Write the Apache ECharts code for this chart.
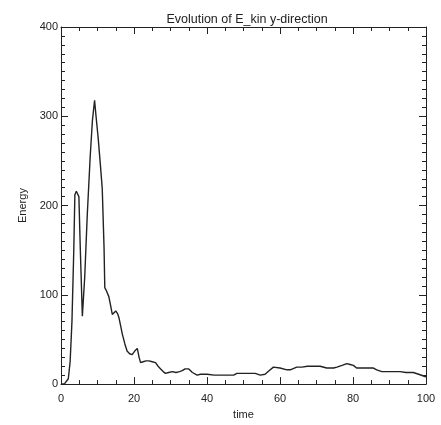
<!DOCTYPE html>
<html>
<head>
<meta charset="utf-8">
<script src="https://cdn.jsdelivr.net/npm/echarts@6/dist/echarts.min.js"></script>
<style>html,body{margin:0;padding:0;background:#fff;}#c{width:441px;height:425px;}</style>
</head>
<body>
<div id="c"></div>
<script>
var timeVals = [0, 0.5, 1, 1.5, 2, 2.5, 3, 3.5, 3.8, 4.2, 4.6, 4.9, 5.3, 5.85, 6.5, 7.2, 8, 8.6, 9.2, 9.6, 10.2, 10.8, 11.3, 11.8, 12.0, 12.5, 13.1, 13.6, 14.05, 14.5, 15, 15.5, 15.9, 16.4, 16.8, 17.5, 18.1, 18.8, 19.5, 20.2, 20.9, 21.4, 21.8, 22.5, 23.3, 24.1, 25, 25.9, 26.6, 27.3, 28, 28.6, 29.5, 30.5, 31.5, 32.5, 33.2, 34, 35, 36, 37.3, 38.2, 39, 40, 42, 44, 46, 47.3, 48.2, 50, 52, 53.2, 54.6, 55.9, 57, 58.2, 60, 61.9, 62.8, 64.6, 66, 67.5, 69.2, 71, 72.8, 74.7, 75.6, 77, 78.3, 79.2, 80.1, 81, 83, 85.6, 86.5, 87.9, 90, 92.9, 94.5, 96.5, 98, 99.7, 100];
var energyVals = [0, 0, 0.5, 2, 6, 25, 70, 150, 212, 216, 215, 210, 150, 76, 120, 190, 255, 295, 318, 300, 275, 245, 219, 152, 108, 104, 98, 88, 78, 80, 82, 79, 74, 64, 56, 45, 37, 34, 33, 37, 40, 30, 24, 25, 26, 26, 25, 24, 20, 17, 14, 12, 13, 14, 13, 14, 15, 17, 17, 13, 10, 11, 11, 11, 10, 10, 10, 10, 12, 12, 12, 12, 10, 11, 15, 19, 18, 16, 16, 19, 19, 20, 20, 20, 18, 18, 19, 21, 23, 22, 21, 18, 18, 18, 16, 14, 14, 14, 13, 13, 11, 8.5, 8];
var xTicks = [0, 20, 40, 60, 80, 100];
var yTicks = [0, 100, 200, 300, 400];

var chart = echarts.init(document.getElementById('c'));
var font = 'Liberation Sans';
function axisBase(splitNum) {
  return {
    axisLine: {show: true, onZero: false, lineStyle: {color: '#222', width: 1}},
    axisTick: {show: true, inside: true, length: 7, lineStyle: {color: '#222'}},
    minorTick: {show: true, splitNumber: splitNum, length: 4, lineStyle: {color: '#222'}},
    splitLine: {show: false}
  };
}
chart.setOption({
  animation: false,
  backgroundColor: '#fff',
  title: {
    text: 'Evolution of E_kin y-direction',
    left: 242, top: 8, textAlign: 'center',
    textStyle: {fontFamily: font, fontSize: 12.5, fontWeight: 'normal', color: '#222'}
  },
  grid: {left: 61, right: 15, top: 27, bottom: 38},
  xAxis: [
    Object.assign(axisBase(4), {
      type: 'value', position: 'bottom', min: xTicks[0], max: xTicks[xTicks.length - 1], interval: 20,
      name: 'time', nameLocation: 'middle', nameGap: 22,
      nameTextStyle: {fontFamily: font, fontSize: 11, color: '#222'},
      axisLabel: {fontFamily: font, fontSize: 11, color: '#222', margin: 9}
    }),
    Object.assign(axisBase(4), {
      type: 'value', position: 'top', min: xTicks[0], max: xTicks[xTicks.length - 1], interval: 20,
      axisLabel: {show: false}
    })
  ],
  yAxis: [
    Object.assign(axisBase(10), {
      type: 'value', position: 'left', min: yTicks[0], max: yTicks[yTicks.length - 1], interval: 100,
      name: 'Energy', nameLocation: 'middle', nameGap: 23,
      nameTextStyle: {fontFamily: font, fontSize: 11, color: '#222'},
      axisLabel: {fontFamily: font, fontSize: 11, color: '#222', margin: 3}
    }),
    Object.assign(axisBase(10), {
      type: 'value', position: 'right', min: yTicks[0], max: yTicks[yTicks.length - 1], interval: 100,
      axisLabel: {show: false}
    })
  ],
  series: [{
    type: 'line',
    xAxisIndex: 0, yAxisIndex: 0,
    showSymbol: false,
    data: timeVals.map(function (t, i) { return [t, energyVals[i]]; }),
    lineStyle: {color: '#222', width: 1.4},
    itemStyle: {color: '#222'}
  }]
});
</script>
</body>
</html>
